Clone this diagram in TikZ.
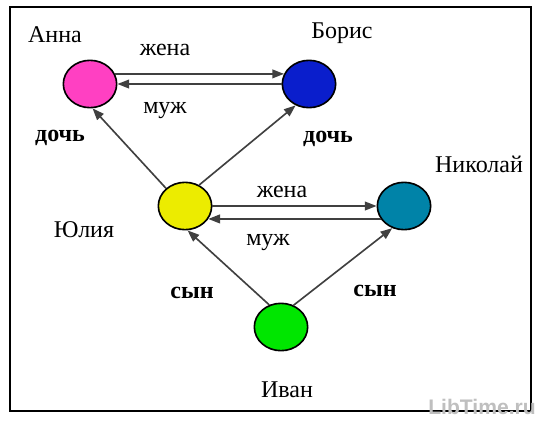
\documentclass[tikz,border=0pt]{standalone}
\usepackage{fontspec}
\setmainfont{Liberation Serif}
\setsansfont{Liberation Sans}
\usepackage{xcolor}
\usetikzlibrary{arrows.meta, shapes.geometric}

\definecolor{annapink}{HTML}{FF40C2}
\definecolor{borisblue}{HTML}{0A1ECC}
\definecolor{yuliayellow}{HTML}{ECEC00}
\definecolor{nikolaiteal}{HTML}{0083A8}
\definecolor{ivangreen}{HTML}{00E600}

\begin{document}
\begin{tikzpicture}[
        x=0.03cm, y=-0.03cm,                 % 1 unit = 1 px of the sketch
        person/.style={
            ellipse,
            draw=black,
            line width=1.4pt,
            minimum width=1.6cm,
            minimum height=1.42cm,
            inner sep=0pt
        },
        personname/.style={
            font=\fontsize{20.5}{24}\selectfont,
            anchor=base
        },
        rel/.style={
            font=\fontsize{20.5}{24}\selectfont,
            anchor=base
        },
        relbold/.style={
            anchor=base,
            font=\fontsize{20.5}{24}\selectfont\bfseries
        },
        link/.style={
            draw=black!75,
            line width=1.4pt,
            -{Triangle[length=10pt, width=7.5pt]}
        }
    ]
    \useasboundingbox (0,0) rectangle (544,421);

    % --- frame ---
    \draw [line width=1.7pt] (10,7) rectangle (531,411);

    % --- family members ---
    \node [person, fill=annapink]    (anna)    at (90,84)   {};
    \node [person, fill=borisblue]   (boris)   at (309,84)  {};
    \node [person, fill=yuliayellow] (yulia)   at (185,206) {};
    \node [person, fill=nikolaiteal] (nikolai) at (404,206) {};
    \node [person, fill=ivangreen]   (ivan)    at (281,327) {};

    % --- names ---
    \node [personname] (anna_n)    at (55,42)   {Анна};
    \node [personname] (boris_n)   at (342,38)  {Борис};
    \node [personname] (yulia_n)   at (84,237)  {Юлия};
    \node [personname] (nikolai_n) at (479,172) {Николай};
    \node [personname] (ivan_n)    at (287,397) {Иван};

    % --- relations ---
    \path [link] (anna.22) -- (boris.158);
    \path [link] (boris.west) -- (anna.east);
    \path [link] (yulia.east) -- (nikolai.west);
    \path [link] (nikolai.209) -- (yulia.-29);

    \path [link] (yulia.137) -- (anna.-84);
    \path [link] (yulia.56) -- (boris.238);
    \path [link] (ivan.118) -- (yulia.-84);
    \path [link] (ivan.60) -- (nikolai.242);

    \node [rel] (wife_top)  at (165,55)  {жена};
    \node [rel] (husb_top)  at (165,113) {муж};
    \node [rel] (wife_mid)  at (282,197) {жена};
    \node [rel] (husb_mid)  at (268,245) {муж};
    \node [relbold] (daughter_l) at (60,141)  {дочь};
    \node [relbold] (daughter_r) at (328,142) {дочь};
    \node [relbold] (son_l) at (192,298) {сын};
    \node [relbold] (son_r) at (375,296) {сын};

    % --- watermark ---
    \node [font=\sffamily\bfseries\fontsize{18}{18}\selectfont, text=black!25, anchor=base]
        (mark) at (482,414) {LibTime.ru};
\end{tikzpicture}
\end{document}
